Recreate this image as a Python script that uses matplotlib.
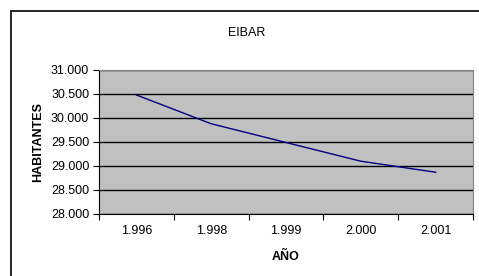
import matplotlib.pyplot as plt
from matplotlib.patches import Rectangle

plt.rcParams['font.family'] = ['Liberation Sans', 'DejaVu Sans']

years = ['1.996', '1.998', '1.999', '2.000', '2.001']
habitantes = [30480, 29880, 29490, 29100, 28870]
yticks = [28000, 28500, 29000, 29500, 30000, 30500, 31000]
ylabels = ['28.000', '28.500', '29.000', '29.500', '30.000', '30.500', '31.000']

fig = plt.figure(figsize=(4.79, 2.76), dpi=100)

# outer chart border (runs off the right and bottom edge)
fig.patches.append(Rectangle((11 / 479, -0.2), 1.2, 0.2 + 1 - 11 / 276,
                             transform=fig.transFigure, fill=False,
                             edgecolor='black', linewidth=1.2))

ax = fig.add_axes([99 / 479, 1 - 214 / 276, (473 - 99) / 479, (214 - 70) / 276])
ax.set_facecolor('#c0c0c0')

x = range(len(years))
ax.plot(x, habitantes, color='#000080', linewidth=1)

ax.set_xlim(-0.5, len(years) - 0.5)
ax.set_ylim(28000, 31000)
ax.set_yticks(yticks)
ax.set_yticklabels(ylabels, fontsize=9)
ax.yaxis.grid(True, color='black', linewidth=1)
ax.set_axisbelow(True)

ax.set_xticks([i - 0.5 for i in range(len(years) + 1)])
ax.set_xticklabels([])
ax.set_xticks(list(x), minor=True)
ax.set_xticklabels(years, minor=True, fontsize=9)
ax.tick_params(axis='x', which='minor', length=0, pad=8)
ax.tick_params(axis='x', which='major', length=4, direction='out', width=0.8)
ax.tick_params(axis='y', length=4, direction='out', width=0.8, pad=3)

for s in ['top', 'right']:
    ax.spines[s].set_color('#808080')
for s in ['left', 'bottom']:
    ax.spines[s].set_color('black')

ax.set_ylabel('HABITANTES', fontsize=9, fontweight='bold', labelpad=5)
ax.set_xlabel('AÑO', fontsize=9, fontweight='bold', labelpad=10)
fig.text(247 / 479, 1 - 33 / 276, 'EIBAR', fontsize=9, ha='center', va='center')

plt.savefig('out.png', dpi=100)
